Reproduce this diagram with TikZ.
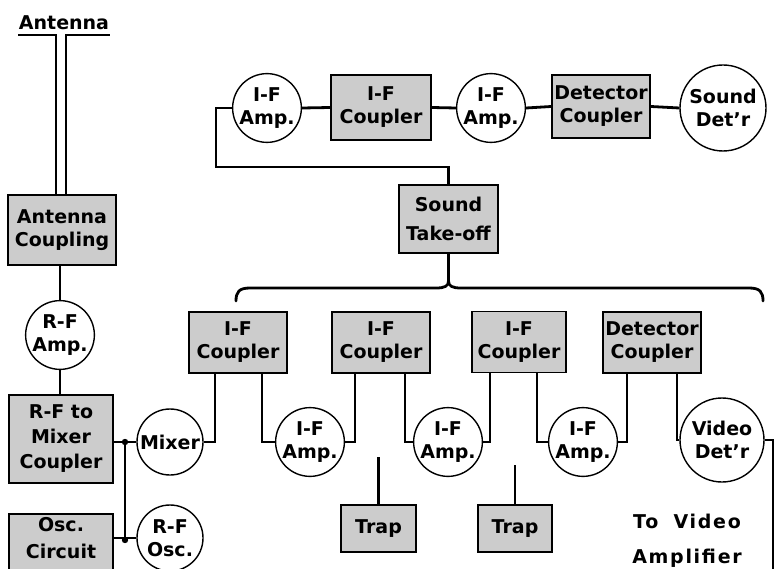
\documentclass[tikz,border=0pt]{standalone}
\usepackage{fontspec}
\setmainfont{DejaVu Sans}
\definecolor{boxgray}{gray}{0.80}
\begin{document}
\begin{tikzpicture}[x=1pt,y=-1pt,
  lbl/.style={font=\bfseries\fontsize{19}{23}\selectfont, align=center, inner sep=0pt},
  box/.style={lbl, draw, line width=1.8pt, fill=boxgray},
  circ/.style={lbl, circle, draw, line width=1.4pt, fill=white},
  wire/.style={line width=2.8pt}]
\useasboundingbox (0,0) rectangle (776,569);
\clip (0,0) rectangle (776,569);

% ---------- left column ----------
\node[lbl, anchor=base] (antlbl) at (64,30) {Antenna};
\node[box, minimum width=108pt, minimum height=70pt] (antc) at (62,230) {Antenna\\Coupling};
\node[circ, minimum size=66pt] (rfamp) at (60,335) {R-F\\Amp.};
\node[box, minimum width=104pt, minimum height=88pt, font=\bfseries\fontsize{19}{25}\selectfont] (rfmc) at (61,439) {R-F to\\Mixer\\Coupler};
\node[box, minimum width=104pt, minimum height=70pt, anchor=north] (osc) at (61,513) {};
\node[lbl, font=\bfseries\fontsize{19}{27}\selectfont] (osclbl) at (61,538) {Osc.\\Circuit};
\node[circ, minimum size=66pt] (mixer) at (170,442) {Mixer};
\node[circ, minimum size=66pt] (rfosc) at (170,538) {R-F\\Osc.};

% ---------- top row ----------
\node[circ, minimum size=64pt] (tifa1) at (267,108) {I-F\\Amp.};
\node[box, minimum width=100pt, minimum height=65pt] (tifc) at (381,107.5) {I-F\\Coupler};
\node[circ, minimum size=62pt] (tifa2) at (491,108) {I-F\\Amp.};
\node[box, minimum width=98pt, minimum height=63pt] (tdetc) at (601,106.5) {Detector\\Coupler};
\node[circ, minimum size=86pt] (sdet) at (723,108) {Sound\\Det’r};
\node[box, minimum width=99pt, minimum height=68pt, font=\bfseries\fontsize{19}{29}\selectfont] (sto) at (448.5,219) {Sound\\Take-off};

% ---------- middle row ----------
\node[box, minimum width=98pt, minimum height=61pt] (ifc1) at (238,342.5) {I-F\\Coupler};
\node[box, minimum width=98pt, minimum height=61pt] (ifc2) at (381,342.5) {I-F\\Coupler};
\node[box, minimum width=94pt, minimum height=61pt] (ifc3) at (519,342) {I-F\\Coupler};
\node[box, minimum width=98pt, minimum height=61pt] (detc) at (652,342.5) {Detector\\Coupler};
\node[circ, minimum size=66pt] (ifa1) at (310,442) {I-F\\Amp.};
\node[circ, minimum size=66pt] (ifa2) at (448,442) {I-F\\Amp.};
\node[circ, minimum size=64pt] (ifa3) at (583,442) {I-F\\Amp.};
\node[circ, minimum size=84pt] (vdet) at (722,440) {Video\\Det’r};
\node[box, minimum width=75pt, minimum height=47pt] (trap1) at (378.5,528.5) {Trap};
\node[box, minimum width=74pt, minimum height=47pt] (trap2) at (515,528.5) {Trap};
\node[lbl, font=\bfseries\fontsize{19}{35}\selectfont\addfontfeature{LetterSpace=9}] (tovid) at (687,541) {To\hspace{0.8em}Video\\Amplifier};

% ---------- coordinates ----------
\coordinate (antL) at (18,35);
\coordinate (antR) at (110,35);
\coordinate (j1) at (125,442);
\coordinate (j2) at (125,540);
\coordinate (tl) at (216,167);
\coordinate (t1a) at (378.5,457);
\coordinate (t2a) at (515,465);
\coordinate (vout) at (773,575);
\coordinate (bcen) at (448.5,281);

% ---------- wires ----------
\draw[wire] ([xshift=-6pt]antc.north) |- (antL);
\draw[wire] ([xshift=4pt]antc.north) |- (antR);
\draw[wire] (rfamp.north) -- (rfamp.north |- antc.south);
\draw[wire] (rfamp.south) -- (rfamp.south |- rfmc.north);
\draw[wire] (mixer.west) -- (mixer.west -| rfmc.east);
\draw[wire] (rfosc.west) -- (rfosc.west -| osc.east);
\draw[wire] (j1) -- (j2);
\fill (j1) circle (3.2pt);
\fill (j2) circle (3.2pt);

\draw[wire] (tifa1.west) -| (tl) -| (sto.north);
\draw[wire] (tifa1.east) -- (tifc.west);
\draw[wire] (tifc.east) -- (tifa2.west);
\draw[wire] (tifa2.east) -- (tdetc.west);
\draw[wire] (tdetc.east) -- (sdet.west);

\draw[wire] (sto.south) -- (bcen);
\draw[wire, line cap=round] (236,301) .. controls (236,292) and (239,288) .. (250,288)
   -- (436,288) .. controls (445,288) and (448.5,286) .. (bcen);
\draw[wire, line cap=round] (763,301) .. controls (763,292) and (760,288) .. (749,288)
   -- (461,288) .. controls (452,288) and (448.5,286) .. (bcen);

\draw[wire] (mixer.east) -| ([xshift=-23pt]ifc1.south);
\draw[wire] ([xshift=24pt]ifc1.south) |- (ifa1.west);
\draw[wire] (ifa1.east) -| ([xshift=-26pt]ifc2.south);
\draw[wire] ([xshift=24pt]ifc2.south) |- (ifa2.west);
\draw[wire] (ifa2.east) -| ([xshift=-29pt]ifc3.south);
\draw[wire] ([xshift=18pt]ifc3.south) |- (ifa3.west);
\draw[wire] (ifa3.east) -| ([xshift=-25pt]detc.south);
\draw[wire] ([xshift=25pt]detc.south) |- (vdet.west);
\draw[wire] (vdet.east) -| (vout);
\draw[wire] (trap1.north) -- (t1a);
\draw[wire] (trap2.north) -- (t2a);
\end{tikzpicture}
\end{document}
